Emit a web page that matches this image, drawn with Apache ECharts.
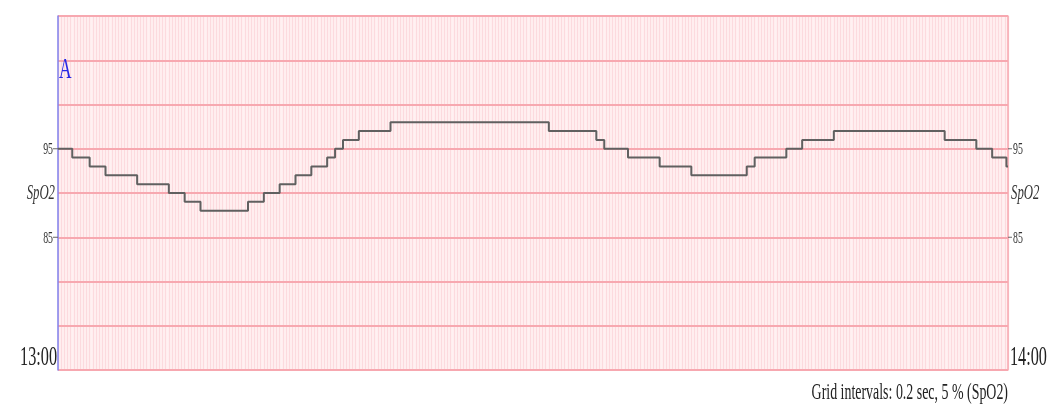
<!DOCTYPE html>
<html>
<head>
<meta charset="utf-8">
<script src="https://cdn.jsdelivr.net/npm/echarts@6/dist/echarts.min.js"></script>
<style>
html,body{margin:0;padding:0;background:#fff;}
#chart{width:1049px;height:420px;}
</style>
</head>
<body>
<div id="chart"></div>
<script>
// Time in minutes after 13:00 where each SpO2 level starts (step series)
const times = [0, 0.9, 2, 3, 5, 7, 8, 9, 12, 13, 14, 15, 16, 17, 17.5, 18, 19, 21, 31, 34, 34.5, 36, 38, 40, 43.5, 44, 46, 47, 49, 56, 58, 59, 59.9, 60];
const spo2 = [95, 94, 93, 92, 91, 90, 89, 88, 89, 90, 91, 92, 93, 94, 95, 96, 97, 98, 97, 96, 95, 94, 93, 92, 93, 94, 95, 96, 97, 96, 95, 94, 93, 93];
const yTickValues = [95, 85];
const yTitle = 'SpO2';
const yTitleValue = 90;
const timeLabels = ['13:00', '14:00'];
const timeRange = [0, 60];
const yRange = [70, 110];
const leadLabel = 'A';
const footer = 'Grid intervals: 0.2 sec, 5 % (SpO2)';

(function () {
const chart = echarts.init(document.getElementById('chart'));
const seriesData = times.map((t, i) => [t, spo2[i]]);

chart.setOption({
  animation: false,
  backgroundColor: '#ffffff',
  grid: {left: 58, right: 41, top: 16, bottom: 50, show: true, backgroundColor: '#fff1f2', borderWidth: 0},
  xAxis: {
    type: 'value', min: timeRange[0], max: timeRange[1], interval: 0.2, z: 0,
    axisLine: {show: false}, axisTick: {show: false}, axisLabel: {show: false},
    splitLine: {show: true, lineStyle: {color: '#fcdade', width: 1.3}}
  },
  yAxis: [{
    type: 'value', min: yRange[0], max: yRange[1], interval: 5, z: 1,
    axisLine: {show: true, lineStyle: {color: '#8080ec', width: 1.5}},
    axisTick: {show: false}, axisLabel: {show: false},
    splitLine: {show: true, lineStyle: {color: '#f7a8b0', width: 2.2}}
  }, {
    type: 'value', position: 'right', min: yRange[0], max: yRange[1], interval: 5, z: 1,
    axisLine: {show: true, lineStyle: {color: '#f7a8b0', width: 1.5}},
    axisTick: {show: false}, axisLabel: {show: false}, splitLine: {show: false}
  }],
  series: [{
    type: 'line', step: 'end', data: seriesData, symbol: 'none',
    lineStyle: {color: '#606060', width: 2}, z: 5
  }]
});

const px = (x, y) => chart.convertToPixel({gridIndex: 0}, [x, y]);
const pLeft = px(timeRange[0], yRange[0]);
const pRight = px(timeRange[1], yRange[0]);
const pTop = px(timeRange[0], yRange[1]);
const SX = 0.58;
const serif = '"Liberation Serif", "DejaVu Serif", serif';
function txt(text, x, y, size, align, vAlign, color, italic) {
  return {
    type: 'text', x: x, y: y, scaleX: SX, z: 100,
    style: {
      text: text, font: (italic ? 'italic ' : '') + size + 'px ' + serif,
      fill: color, align: align, verticalAlign: vAlign,
      textAlign: align, textVerticalAlign: vAlign
    }
  };
}
const g = [];
yTickValues.forEach(v => {
  const pl = px(timeRange[0], v);
  const pr = px(timeRange[1], v);
  g.push(txt(String(v), pl[0] - 5, pl[1] + 1, 17, 'right', 'middle', '#333'));
  g.push(txt(String(v), pr[0] + 5, pr[1] + 1, 17, 'left', 'middle', '#333'));
  g.push({type: 'line', z: 100, shape: {x1: pl[0] - 5, y1: pl[1], x2: pl[0], y2: pl[1]}, style: {stroke: '#666', lineWidth: 1}});
  g.push({type: 'line', z: 100, shape: {x1: pr[0], y1: pr[1], x2: pr[0] + 4, y2: pr[1]}, style: {stroke: '#666', lineWidth: 1}});
});
const tl = px(timeRange[0], yTitleValue);
const tr = px(timeRange[1], yTitleValue);
g.push(txt(yTitle, tl[0] - 3, tl[1], 22, 'right', 'middle', '#333', true));
g.push(txt(yTitle, tr[0] + 3, tr[1], 22, 'left', 'middle', '#333', true));
g.push(txt(timeLabels[0], pLeft[0] - 1, pLeft[1] + 2, 28, 'right', 'bottom', '#222'));
g.push(txt(timeLabels[1], pRight[0] + 2, pRight[1] + 2, 28, 'left', 'bottom', '#222'));
g.push(txt(leadLabel, pTop[0] + 1, pTop[1] + 39, 30, 'left', 'top', '#2a2ae6'));
g.push(txt(footer, pRight[0], pRight[1] + 23, 24, 'right', 'middle', '#222'));
chart.setOption({graphic: g});
})();
</script>
</body>
</html>
